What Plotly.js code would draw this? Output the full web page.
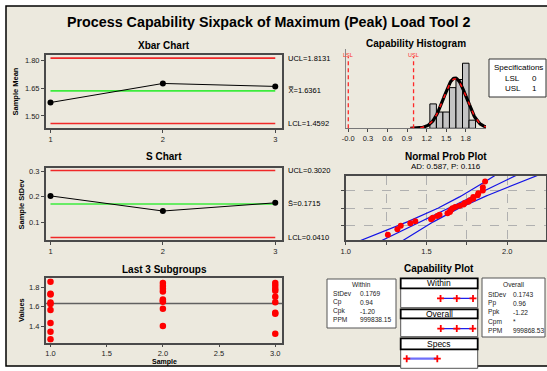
<!DOCTYPE html>
<html><head><meta charset="utf-8">
<script src="https://cdn.plot.ly/plotly-3.0.1.min.js"></script>
<style>html,body{margin:0;padding:0;background:#fff}#c{width:547px;height:371px}</style>
</head><body><div id="c"></div>
<script>
// ---------------- DATA ----------------
const subgroups = [1, 2, 3];
const xbarMeans = [1.573, 1.676, 1.660];
const sValues = [0.203, 0.144, 0.176];
const xbarLimits = {ucl: 1.8131, center: 1.6361, lcl: 1.4592};
const sLimits = {ucl: 0.3020, center: 0.1715, lcl: 0.0410};
const sub1 = [1.863, 1.737, 1.730, 1.645, 1.630, 1.567, 1.431, 1.341, 1.261];
const sub2 = [1.849, 1.817, 1.790, 1.760, 1.678, 1.661, 1.654, 1.581, 1.400];
const sub3 = [1.849, 1.821, 1.790, 1.769, 1.706, 1.647, 1.539, 1.529, 1.320];
const LSL = 0, USL = 1;
const processMean = 1.6361;
const withinStats = {StDev: "0.1769", Cp: "0.94", Cpk: "-1.20", PPM: "999838.15"};
const overallStats = {StDev: "0.1743", Pp: "0.96", Ppk: "-1.22", Cpm: "*", PPM: "999868.53"};
const withinSD = 0.1769, overallSD = 0.1743;
const histBinStart = 1.25, histBinSize = 0.1;
const histTickVals = [0, 0.3, 0.6, 0.9, 1.2, 1.5, 1.8];
const histTickText = ["-0.0", "0.3", "0.6", "0.9", "1.2", "1.5", "1.8"];
const probTickVals = [1.0, 1.25, 1.5, 1.75, 2.0, 2.25];
const probTickText = ["1.0", "", "1.5", "", "2.0", ""];
const probPercents = [10, 50, 90];
const adText = "AD: 0.587, P: 0.116";

// ---------------- HELPERS ----------------
const W = 547, H = 371;
const px = v => v / W;
const py = v => 1 - v / H;
function invNorm(p){
 const a=[-3.969683028665376e+01,2.209460984245205e+02,-2.759285104469687e+02,1.383577518672690e+02,-3.066479806614716e+01,2.506628277459239e+00];
 const b=[-5.447609879822406e+01,1.615858368580409e+02,-1.556989798598866e+02,6.680131188771972e+01,-1.328068155288572e+01];
 const c=[-7.784894002430293e-03,-3.223964580411365e-01,-2.400758277161838e+00,-2.549732539343734e+00,4.374664141464968e+00,2.938163982698783e+00];
 const d=[7.784695709041462e-03,3.224671290700398e-01,2.445134137142996e+00,3.754408661907416e+00];
 const pl=0.02425, ph=1-pl; let q,r;
 if(p<pl){q=Math.sqrt(-2*Math.log(p));return (((((c[0]*q+c[1])*q+c[2])*q+c[3])*q+c[4])*q+c[5])/((((d[0]*q+d[1])*q+d[2])*q+d[3])*q+1);}
 if(p<=ph){q=p-0.5;r=q*q;return (((((a[0]*r+a[1])*r+a[2])*r+a[3])*r+a[4])*r+a[5])*q/(((((b[0]*r+b[1])*r+b[2])*r+b[3])*r+b[4])*r+1);}
 q=Math.sqrt(-2*Math.log(1-p));return -(((((c[0]*q+c[1])*q+c[2])*q+c[3])*q+c[4])*q+c[5])/((((d[0]*q+d[1])*q+d[2])*q+d[3])*q+1);
}
const npdf = (x,m,s) => Math.exp(-0.5*((x-m)/s)**2)/(s*Math.sqrt(2*Math.PI));

const FONT = "Liberation Sans, Arial, sans-serif";
const RED = "rgb(240,40,40)", GREEN = "rgb(60,235,60)";
const allData = sub1.concat(sub2, sub3);
const N = allData.length;
const xs = [subgroups[0], subgroups[subgroups.length-1]];

const traces = [];
// Xbar chart
[[xbarLimits.ucl, RED],[xbarLimits.lcl, RED],[xbarLimits.center, GREEN]].forEach(([v,c])=>{
  traces.push({x: xs, y: [v,v], xaxis:'x', yaxis:'y', mode:'lines', line:{color:c, width:1.6}, hoverinfo:'skip'});
});
traces.push({x: subgroups, y: xbarMeans, xaxis:'x', yaxis:'y', mode:'lines+markers', line:{color:'#000', width:1}, marker:{color:'#000', size:6}});
// S chart
[[sLimits.ucl, RED],[sLimits.lcl, RED],[sLimits.center, GREEN]].forEach(([v,c])=>{
  traces.push({x: xs, y: [v,v], xaxis:'x2', yaxis:'y2', mode:'lines', line:{color:c, width:1.6}, hoverinfo:'skip'});
});
traces.push({x: subgroups, y: sValues, xaxis:'x2', yaxis:'y2', mode:'lines+markers', line:{color:'#000', width:1}, marker:{color:'#000', size:6}});
// Last 3 subgroups
traces.push({x: [0.9, 3.1], y: [processMean, processMean], xaxis:'x3', yaxis:'y3', mode:'lines', line:{color:'#606060', width:1.5}});
const lx = [], ly = [];
[sub1, sub2, sub3].forEach((s,i)=>s.forEach(v=>{lx.push(subgroups[i]); ly.push(v);}));
traces.push({x: lx, y: ly, xaxis:'x3', yaxis:'y3', mode:'markers', marker:{color:'rgb(255,0,0)', size:6.5}});
// Histogram
traces.push({type:'histogram', x: allData, xaxis:'x4', yaxis:'y4', autobinx:false,
  xbins:{start: histBinStart, end: histBinStart + 7*histBinSize, size: histBinSize},
  marker:{color:'#c4c4c4', line:{color:'#000', width:1}}});
const cx = [], cyO = [], cyW = [];
for (let x = 0.95; x <= 2.3; x += 0.01) { cx.push(x); cyO.push(N*histBinSize*npdf(x, processMean, overallSD)); cyW.push(N*histBinSize*npdf(x, processMean, withinSD)); }
traces.push({x: cx, y: cyO, xaxis:'x4', yaxis:'y4', mode:'lines', line:{color:'#000', width:3.2}});
traces.push({x: cx, y: cyW, xaxis:'x4', yaxis:'y4', mode:'lines', line:{color:'rgb(255,20,20)', width:1.6, dash:'4px,6px'}});
// Normal prob plot
const sorted = allData.slice().sort((a,b)=>a-b);
const pz = sorted.map((v,i)=>invNorm((i+1-0.3)/(N+0.4)));
const zz = [], fl = [], lo = [], hi = [];
for (let z = -3; z <= 3.001; z += 0.05) {
  zz.push(z); const m = processMean + z*overallSD; const h = 1.96*overallSD*Math.sqrt((1+z*z/2)/N);
  fl.push(m); lo.push(m-h); hi.push(m+h);
}
[fl, lo, hi].forEach(arr => traces.push({x: arr, y: zz, xaxis:'x5', yaxis:'y5', mode:'lines', line:{color:'rgb(20,20,230)', width:1.2}}));
traces.push({x: sorted, y: pz, xaxis:'x5', yaxis:'y5', mode:'markers', marker:{color:'rgb(255,0,0)', size:6}});
// Capability plot
const capRows = ["Within", "Overall", "Specs"];
const wI = [processMean-3*withinSD, processMean, processMean+3*withinSD];
const oI = [processMean-3*overallSD, processMean, processMean+3*overallSD];
const capMarker = {symbol:'cross-thin', size:5, line:{color:'rgb(255,0,0)', width:1.8}};
traces.push({x: wI, y: wI.map(()=>capRows[0]), xaxis:'x6', yaxis:'y6', mode:'lines+markers', line:{color:'rgb(30,30,235)', width:1.3}, marker:capMarker});
traces.push({x: oI, y: oI.map(()=>capRows[1]), xaxis:'x6', yaxis:'y6', mode:'lines+markers', line:{color:'rgb(30,30,235)', width:1.3}, marker:capMarker});
traces.push({x: [LSL, USL], y: [capRows[2], capRows[2]], xaxis:'x6', yaxis:'y6', mode:'lines+markers', line:{color:'rgb(110,110,250)', width:2.3}, marker:capMarker});

// ---------------- LAYOUT ----------------
const tickF = {family: FONT, size: 7.5, color: '#222'};
const boxAxis = (extra) => Object.assign({showline:true, mirror:true, linecolor:'#4a4a4a', linewidth:2, ticks:'outside', ticklen:3, tickcolor:'#4a4a4a', tickfont:tickF, showgrid:false, zeroline:false, fixedrange:true}, extra);
const xL = [px(46), px(282)];
const layout = {
  width: W, height: H, margin:{l:0,r:0,t:0,b:0}, autosize:false, showlegend:false,
  paper_bgcolor:'#ffffff', plot_bgcolor:'#ffffff', bargap:0, font:{family:FONT},
  xaxis: boxAxis({domain:xL, anchor:'y', range:[0.96,3.06], tickvals:subgroups}),
  yaxis: boxAxis({domain:[py(128), py(55)], anchor:'x', range:[1.435,1.83], tickvals:[1.50,1.65,1.80], tickformat:'.2f'}),
  xaxis2: boxAxis({domain:xL, anchor:'y2', range:[0.96,3.06], tickvals:subgroups}),
  yaxis2: boxAxis({domain:[py(240), py(167.7)], anchor:'x2', range:[0.031,0.313], tickvals:[0.1,0.2,0.3], tickformat:'.1f'}),
  xaxis3: boxAxis({domain:xL, anchor:'y3', range:[0.96,3.06], tickvals:[1,1.5,2,2.5,3], tickformat:'.1f', ticklen:2}),
  yaxis3: boxAxis({domain:[py(342.7), py(278.3)], anchor:'x3', range:[1.226,1.898], tickvals:[1.4,1.6,1.8], tickformat:'.1f'}),
  xaxis4: boxAxis({domain:[px(346), px(486)], anchor:'y4', range:[-0.035,2.11], tickvals:histTickVals, ticktext:histTickText, linewidth:1, linecolor:'#777', mirror:false}),
  yaxis4: boxAxis({domain:[py(128.3), py(49)], anchor:'x4', range:[0,9.75], showticklabels:false, ticks:'', linewidth:1, linecolor:'#888', mirror:false}),
  xaxis5: boxAxis({domain:[px(345.7), px(546)], anchor:'y5', range:[1.0,2.24], tickvals:probTickVals, ticktext:probTickText, showgrid:true, gridcolor:'#b0b0b0', griddash:'dash', gridwidth:1}),
  yaxis5: boxAxis({domain:[py(240), py(176)], anchor:'x5', range:[-2.33,2.36], tickvals:probPercents.map(p=>invNorm(p/100)), showticklabels:false, showgrid:true, gridcolor:'#b0b0b0', griddash:'dash', gridwidth:1}),
  xaxis6: {domain:[px(400.7), px(477.7)], anchor:'y6', range:[-0.196,2.32], visible:false, fixedrange:true},
  yaxis6: {domain:[py(368.3), py(278)], anchor:'x6', type:'category', categoryarray:capRows, range:[2.32,-0.68], visible:false, fixedrange:true},
  shapes: [], annotations: []
};
const S = layout.shapes, A = layout.annotations;
// outer frame
S.push({type:'rect', xref:'paper', yref:'paper', x0:px(6), x1:px(560), y0:py(366), y1:py(6), fillcolor:'#ECE9DE', line:{color:'#000', width:1.5}, layer:'below'});
// LSL / USL lines on histogram
[[LSL,'LSL'],[USL,'USL']].forEach(([v,t])=>{
  S.push({type:'line', xref:'x4', yref:'y4 domain', x0:v, x1:v, y0:0, y1:0.9, line:{color:'rgb(255,40,40)', width:1.3, dash:'4px,3px'}});
  A.push({text:t, xref:'x4', yref:'paper', x:v, y:py(50), yanchor:'top', xanchor:'center', showarrow:false, font:{family:FONT, size:5.5, color:'rgb(255,40,40)'}});
});
// specifications box
S.push({type:'rect', xref:'paper', yref:'paper', x0:px(489), x1:px(546), y0:py(97), y1:py(59), fillcolor:'#fff', line:{color:'#333', width:1}});
const ann = (text, x, y, o={}) => A.push(Object.assign({text, xref:'paper', yref:'paper', x:px(x), y:py(y), showarrow:false, xanchor:'center', yanchor:'middle', font:{family:FONT, size:8, color:'#000'}}, o));
const spF = {family:FONT, size:8, color:'#000'};
ann("Specifications", 492, 67.5, {xanchor:'left', font:spF});
ann("LSL", 503, 78, {xanchor:'left', font:spF});
ann(String(LSL), 530, 78, {xanchor:'left', font:spF});
ann("USL", 503, 89, {xanchor:'left', font:spF});
ann(String(USL), 530, 89, {xanchor:'left', font:spF});
// titles
ann("<b>Process Capability Sixpack of Maximum (Peak) Load Tool 2</b>", 268.5, 22, {font:{family:FONT, size:14.3, color:'#000'}});
const sub = {family:FONT, size:10, color:'#000'};
ann("<b>Xbar Chart</b>", 164, 45, {font:sub});
ann("<b>S Chart</b>", 164, 157, {font:sub});
ann("<b>Last 3 Subgroups</b>", 164, 269, {font:sub});
ann("<b>Capability Histogram</b>", 416, 44, {font:sub});
ann("<b>Normal Prob Plot</b>", 446, 156, {font:sub});
ann(adText, 446, 166.5, {font:{family:FONT, size:8, color:'#000'}});
ann("<b>Capability Plot</b>", 439, 268, {font:sub});
const axT = {family:FONT, size:7.5, color:'#000'};
ann("<b>Sample Mean</b>", 15, 91.5, {textangle:-90, font:axT});
ann("<b>Sample StDev</b>", 20.5, 204, {textangle:-90, font:axT});
ann("<b>Values</b>", 21.5, 310.5, {textangle:-90, font:axT});
ann("<b>Sample</b>", 164, 361.5, {font:{family:FONT, size:7, color:'#000'}});
// control limit labels
const limF = {family:FONT, size:7.5, color:'#000'};
[["UCL="+xbarLimits.ucl.toFixed(4), xbarLimits.ucl, 'y'], ["X\u033F="+xbarLimits.center.toFixed(4), xbarLimits.center, 'y'], ["LCL="+xbarLimits.lcl.toFixed(4), xbarLimits.lcl, 'y'],
 ["UCL="+sLimits.ucl.toFixed(4), sLimits.ucl, 'y2'], ["S\u0304="+sLimits.center.toFixed(4), sLimits.center, 'y2'], ["LCL="+sLimits.lcl.toFixed(4), sLimits.lcl, 'y2']].forEach(([t,v,yr])=>{
  A.push({text:t, xref:'paper', yref:yr, x:px(286), y:v, xanchor:'left', yanchor:'middle', showarrow:false, font:limF});
});
// within / overall stats boxes
S.push({type:'rect', xref:'paper', yref:'paper', x0:px(327), x1:px(396), y0:py(328), y1:py(279), fillcolor:'#fff', line:{color:'#555', width:1}});
S.push({type:'rect', xref:'paper', yref:'paper', x0:px(482), x1:px(545), y0:py(337), y1:py(278), fillcolor:'#fff', line:{color:'#555', width:1}});
const stF = {family:FONT, size:6.6, color:'#222'};
ann("Within", 361.5, 284.5, {font:stF});
Object.keys(withinStats).forEach((k,i)=>{ ann(k, 331, 293.5+i*8.8, {xanchor:'left', font:stF}); ann(withinStats[k], 358, 293.5+i*8.8, {xanchor:'left', font:stF}); });
ann("Overall", 513.5, 284.5, {font:stF});
Object.keys(overallStats).forEach((k,i)=>{ ann(k, 485.5, 294+i*9.2, {xanchor:'left', font:stF}); ann(overallStats[k], 511, 294+i*9.2, {xanchor:'left', font:stF}); });
// capability plot boxes
const cb = [[278.3, 288.3, 307.7, capRows[0]], [309.3, 318.3, 336.7, capRows[1]], [338.3, 349.3, 368.3, capRows[2]]];
cb.forEach(([t, m, b, lab])=>{
  S.push({type:'rect', xref:'paper', yref:'paper', x0:px(400.7), x1:px(477.7), y0:py(b), y1:py(m), fillcolor:'#fff', line:{color:'#555', width:1}, layer:'below'});
  S.push({type:'rect', xref:'paper', yref:'paper', x0:px(400.7), x1:px(477.7), y0:py(m), y1:py(t), fillcolor:'#fff', line:{color:'#000', width:1.8}});
  ann(lab, 439, (t+m)/2, {font:{family:FONT, size:8.5, color:'#000'}});
});
Plotly.newPlot('c', traces, layout, {staticPlot:true});
</script></body></html>
